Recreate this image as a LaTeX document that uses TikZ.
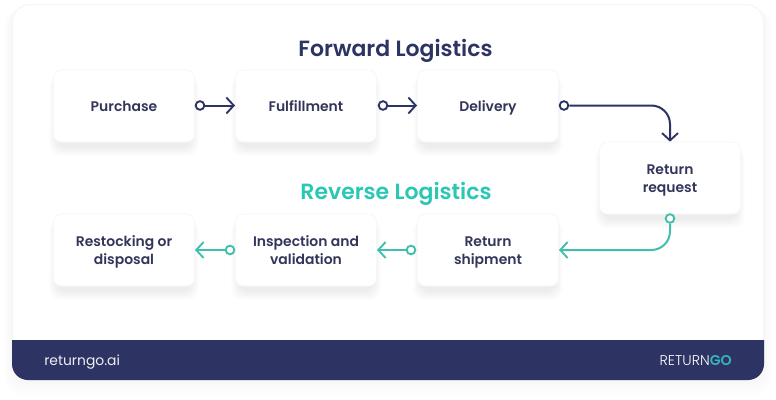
\documentclass[tikz,border=0pt]{standalone}
\usepackage{fontspec}
\setmainfont{Poppins}
\newfontfamily\semib{Poppins SemiBold}
\newfontfamily\medf{Poppins Medium}
\newfontfamily\lightf{Poppins Light}
\usetikzlibrary{arrows.meta}
\definecolor{navy}{HTML}{2D3363}
\definecolor{ink}{HTML}{33355A}
\definecolor{teal1}{HTML}{3FBFAC}
\definecolor{tealh}{HTML}{2BC7B5}
\definecolor{tealg}{HTML}{35B5BE}
\definecolor{edge}{HTML}{F5F6F8}
\newcommand{\topstrut}{\rule{0pt}{12.4pt}}
\newcommand{\twotop}{\rule{0pt}{12pt}}
\newcommand{\botstrut}{\rule[-3.78pt]{0pt}{3.78pt}}
\tikzset{
  stepbox/.style={draw=edge,line width=.5pt,fill=white,rounded corners=6pt,minimum width=106pt,minimum height=54pt,inner sep=0pt,align=center,font=\semib\fontsize{10.45pt}{13.5pt}\selectfont,text=ink},
  title/.style={font=\semib\fontsize{16.5pt}{20pt}\selectfont,inner sep=0pt},
  navyline/.style={draw=navy,line width=1.5pt},
  tealline/.style={draw=teal1,line width=1.5pt},
  barb/.style={-{Straight Barb[length=5.5pt,width=12pt,line width=1.4pt]}},
  dotn/.style={circle,fill=white,line width=1.4pt,minimum size=6.5pt,inner sep=0pt},
}
\begin{document}
\begin{tikzpicture}[x=.75pt,y=-.75pt]
\useasboundingbox (0,0) rectangle (776,400);
\fill[white] (0,0) rectangle (776,400);
% card shadow and card
\foreach \i in {1,...,8}{\fill[navy,opacity=.002,rounded corners=14pt] (12-\i,8) rectangle (764+\i,380+2*\i);}
\draw[edge,fill=white,line width=.75pt,rounded corners=13pt] (12.5,4.5) rectangle (763.5,378);
% footer
\fill[navy] (12,340) -- (764,340) -- (764,364) arc[start angle=0,end angle=90,radius=16] -- (28,380) arc[start angle=90,end angle=180,radius=16] -- cycle;
\node[anchor=base west,inner sep=0pt,text=white!92!navy,font=\fontsize{10.4pt}{13pt}\selectfont] (site) at (44,365) {returngo.ai};
\node[anchor=base east,inner sep=0pt,font=\fontsize{10.6pt}{12pt}\selectfont] (logo) at (732,365) {\lightf\color{white}RETURN\semib\color{tealg}GO};
% titles
\node[title,text=navy,anchor=base] (ft) at (395.5,56) {Forward Logistics};
\node[title,text=tealh,anchor=base] (rt) at (396,199) {Reverse Logistics};
% shadows
\foreach \cx/\cy in {124/106,306/106,488/106,670/178,124/250,306/250,488/250}{
  \foreach \i in {1,...,9}{
    \fill[navy,opacity=.006,rounded corners=8pt] (\cx-71-5+\i,\cy-30) rectangle (\cx+71+5-\i,\cy+36+15-\i);
  }
}
% boxes
\node[stepbox] (a) at (124,106) {\topstrut Purchase\botstrut};
\node[stepbox] (b) at (306,106) {\topstrut Fulfillment\botstrut};
\node[stepbox] (c) at (488,106) {\topstrut Delivery\botstrut};
\node[stepbox] (d) at (670,178) {\twotop Return\\request\botstrut};
\node[stepbox] (e) at (488,250) {\twotop Return\\shipment\botstrut};
\node[stepbox] (f) at (306,250) {\twotop Inspection and\\validation\botstrut};
\node[stepbox] (g) at (124,250) {\twotop Restocking or\\disposal\botstrut};
% start dots
\node[dotn,draw=navy] (d1) at (200,105.5) {};
\node[dotn,draw=navy] (d2) at (383,105.5) {};
\node[dotn,draw=navy] (d3) at (564,105.5) {};
\node[dotn,draw=teal1] (d4) at (670,218.5) {};
\node[dotn,draw=teal1] (d5) at (411,250) {};
\node[dotn,draw=teal1] (d6) at (230,250) {};
% connectors
\draw[navyline,barb] (d1) -- (b.west |- d1);
\draw[navyline,barb] (d2) -- (c.west |- d2);
\draw[navyline,barb,rounded corners=14pt] (d3) -| (d.north);
\draw[tealline,barb,rounded corners=14pt] (d4) |- (e.east);
\draw[tealline,barb] (d5) -- (f.east);
\draw[tealline,barb] (d6) -- (g.east);
\end{tikzpicture}
\end{document}
